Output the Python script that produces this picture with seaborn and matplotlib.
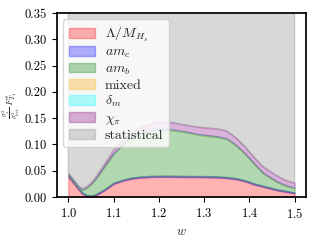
import numpy as np
import matplotlib
matplotlib.use("Agg")
import matplotlib.pyplot as plt
import seaborn as sns

w = [1.00, 1.01, 1.02, 1.03, 1.04, 1.05, 1.06, 1.07, 1.08, 1.09, 1.10, 1.12, 1.14, 1.16,
     1.18, 1.20, 1.23, 1.26, 1.29, 1.33, 1.35, 1.37, 1.39, 1.41, 1.43, 1.46, 1.48, 1.50]

# error budget contributions (stacked)
lam_m = [.039, .028, .017, .007, .002, .001, .003, .008, .013, .019, .025, .031, .035, .037,
         .038, .0385, .0385, .038, .038, .0372, .036, .034, .030, .024, .0196, .013, .010, .007]
am_c = [.002, .002, .002, .002, .002, .002, .002, .002, .002, .002, .002, .002, .002, .002,
        .002, .002, .002, .002, .002, .002, .002, .002, .002, .002, .002, .002, .002, .0015]
am_b = [.0015, .0015, .0015, .004, .013, .021, .029, .036, .043, .049, .055, .066, .076, .082,
        .086, .0875, .0865, .083, .078, .0748, .072, .062, .050, .037, .0234, .014, .009, .008]
mixed = [.0006, .0006, .0006, .0006, .0006, .0006, .0006, .0006, .0006, .0006, .0006, .0006, .0006, .0006,
         .0006, .0006, .0006, .0006, .0006, .0006, .0006, .0006, .0006, .0006, .0006, .0006, .0006, .0006]
delta_m = [.0008, .0008, .0008, .0008, .0008, .0008, .0008, .0008, .0008, .0008, .0008, .0008, .0008, .0008,
           .0008, .0008, .0008, .0008, .0008, .0008, .0008, .0008, .0008, .0008, .0008, .0008, .0008, .0008]
chi_pi = [.0012, .0012, .0012, .0012, .0016, .0018, .0026, .0036, .0046, .0056, .0066, .0076, .0086, .0100,
          .0116, .0136, .0136, .0126, .0136, .0146, .0146, .0136, .0126, .0116, .0116, .0106, .0096, .0091]
stat = [.5, .5, .5, .5, .5, .5, .5, .5, .5, .5, .5, .5, .5, .5,
        .5, .5, .5, .5, .5, .5, .5, .5, .5, .5, .5, .5, .5, .5]

labels = [r"$\Lambda/M_{H_s}$", r"$am_c$", r"$am_b$", "mixed", r"$\delta_m$",
          r"$\chi_\pi$", "statistical"]
colors = ["red", "blue", "green", "orange", "cyan", "purple", "gray"]

sns.set_theme(style="ticks")
plt.rcParams["font.family"] = ["cmr10"]
plt.rcParams["mathtext.fontset"] = "cm"
plt.rcParams["axes.formatter.use_mathtext"] = True
plt.rcParams["axes.edgecolor"] = "black"
plt.rcParams["xtick.color"] = "black"
plt.rcParams["ytick.color"] = "black"

fig, ax = plt.subplots(figsize=(3.2, 2.4), dpi=100)
fig.subplots_adjust(left=0.178, right=0.956, bottom=0.179, top=0.946)

layers = [lam_m, am_c, am_b, mixed, delta_m, chi_pi, stat]
bottom = np.zeros(len(w))
for vals, lab, col in zip(layers, labels, colors):
    top = bottom + np.array(vals)
    ax.fill_between(w, bottom, top, color=col, alpha=0.3, label=lab)
    bottom = top

ax.set_ylim(0, 0.35)
ax.set_xticks([1.0, 1.1, 1.2, 1.3, 1.4, 1.5])
ax.set_yticks([0, 0.05, 0.10, 0.15, 0.20, 0.25, 0.30, 0.35])
ax.yaxis.set_major_formatter(matplotlib.ticker.FormatStrFormatter("%.2f"))
ax.tick_params(labelsize=9, length=3.5, width=0.8)
ax.set_xlabel(r"$w$", fontsize=9)
ax.set_ylabel(r"$\frac{\sigma_s^2}{\sigma_{\rm tot}^2}\,F^s_{T_1}$", fontsize=7)
ax.yaxis.set_label_coords(-0.14, 0.5)
ax.legend(loc="upper left", fontsize=10, frameon=True, labelspacing=0.17,
          handlelength=1.9, handletextpad=0.7, borderaxespad=0.45)

plt.savefig("out.png", dpi=100)
